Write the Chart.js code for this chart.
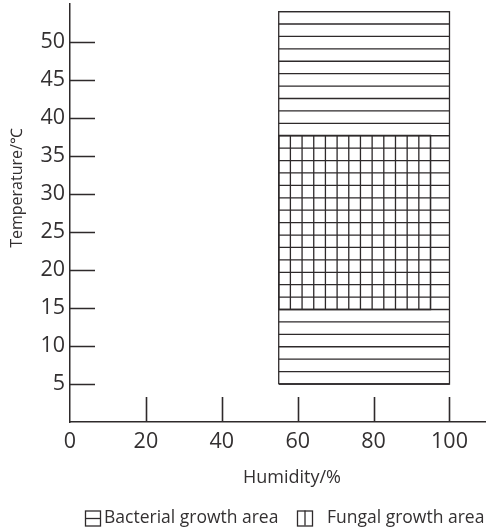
<!DOCTYPE html>
<html><head><meta charset="utf-8">
<script src="https://cdn.jsdelivr.net/npm/chart.js@4/dist/chart.umd.min.js"></script>
<style>
html,body{margin:0;padding:0;background:#fff;overflow:hidden}
#clip{width:486px;height:527px;overflow:hidden;position:relative}
#wrap{width:572px;height:527px;position:absolute;left:0;top:0}
</style>
</head><body><div id="clip"><div id="wrap"><canvas id="c"></canvas></div></div>
<script>
const xTickValues = [0, 20, 40, 60, 80, 100];
const yTickValues = [5, 10, 15, 20, 25, 30, 35, 40, 45, 50];
const bacterialHumidity = [55, 100];
const bacterialTemperature = [5, 54];
const fungalHumidity = [55, 95];
const fungalTemperature = [14.8, 37.7];
const seriesLabels = ['Bacterial growth area', 'Fungal growth area'];
const xAxisTitle = 'Humidity/%';
const yAxisTitle = 'Temperature/℃';

const INK = '#2e2a2b';
const TEXT = '#333031';
const FONT = "'Open Sans', 'Noto Sans', sans-serif";

function rectPoints(h, t) {
  return [
    {x: h[0], y: t[0]}, {x: h[1], y: t[0]}, {x: h[1], y: t[1]},
    {x: h[0], y: t[1]}, {x: h[0], y: t[0]}
  ];
}

const hatchPlugin = {
  id: 'hatch',
  beforeDatasetsDraw(chart) {
    const {ctx, scales: {x, y}, chartArea} = chart;
    ctx.save();
    ctx.beginPath();
    ctx.rect(chartArea.left, chartArea.top, chartArea.right - chartArea.left, chartArea.bottom - chartArea.top);
    ctx.clip();
    chart.data.datasets.forEach(ds => {
      const h = ds.hatch; if (!h) return;
      const xs = ds.data.map(p => x.getPixelForValue(p.x));
      const ys = ds.data.map(p => y.getPixelForValue(p.y));
      const l = Math.min(...xs), r = Math.max(...xs), t = Math.min(...ys), b = Math.max(...ys);
      ctx.strokeStyle = INK; ctx.lineWidth = 1.3;
      ctx.beginPath();
      if (h.dir === 'h') {
        for (let i = 0; i <= h.n; i++) { const yy = t + i * (b - t) / h.n; ctx.moveTo(l, yy); ctx.lineTo(r, yy); }
      } else {
        for (let i = 0; i <= h.n; i++) { const xx = l + i * (r - l) / h.n; ctx.moveTo(xx, t); ctx.lineTo(xx, b); }
      }
      ctx.stroke();
    });
    ctx.restore();
  }
};

const tickPlugin = {
  id: 'innerTicks',
  afterDraw(chart) {
    const {ctx, scales: {x, y}, chartArea} = chart;
    ctx.save();
    ctx.strokeStyle = INK; ctx.lineWidth = 1.6;
    ctx.beginPath();
    yTickValues.forEach(v => { const py = Math.round(y.getPixelForValue(v)) + 0.5; ctx.moveTo(chartArea.left, py); ctx.lineTo(chartArea.left + 25, py); });
    xTickValues.forEach(v => { if (v === 0) return; const px = Math.round(x.getPixelForValue(v)) + 0.5; ctx.moveTo(px, chartArea.bottom); ctx.lineTo(px, chartArea.bottom - 25); });
    ctx.stroke();
    // y axis title
    ctx.save();
    ctx.translate(17, 188);
    ctx.rotate(-Math.PI / 2);
    ctx.font = "16px " + FONT;
    ctx.fillStyle = TEXT;
    ctx.textAlign = 'center';
    ctx.textBaseline = 'middle';
    ctx.fillText(yAxisTitle, 0, 0);
    ctx.restore();
    // legend
    ctx.font = "17.5px " + FONT;
    ctx.fillStyle = TEXT;
    ctx.textBaseline = 'middle';
    ctx.textAlign = 'left';
    const box = 15, cy = 518;
    const iconX = [85, 297], textX = [104, 327];
    chart.data.datasets.forEach((ds, i) => {
      const cx = iconX[i];
      ctx.lineWidth = 1.3; ctx.strokeStyle = INK;
      ctx.strokeRect(cx + 0.5, cy - box / 2 + 0.5, box, box);
      ctx.beginPath();
      if (ds.hatch.dir === 'h') { ctx.moveTo(cx, cy + 0.5); ctx.lineTo(cx + box, cy + 0.5); }
      else { ctx.moveTo(cx + box / 2 + 0.5, cy - box / 2); ctx.lineTo(cx + box / 2 + 0.5, cy + box / 2); }
      ctx.stroke();
      ctx.fillText(ds.label, textX[i], cy);
    });
    ctx.restore();
  }
};

new Chart(document.getElementById('c'), {
  type: 'scatter',
  data: {
    datasets: [
      { label: seriesLabels[0], data: rectPoints(bacterialHumidity, bacterialTemperature), showLine: true,
        borderColor: INK, borderWidth: 1.3, pointRadius: 0, fill: false, tension: 0, hatch: {dir: 'h', n: 30} },
      { label: seriesLabels[1], data: rectPoints(fungalHumidity, fungalTemperature), showLine: true,
        borderColor: INK, borderWidth: 1.3, pointRadius: 0, fill: false, tension: 0, hatch: {dir: 'v', n: 13} }
    ]
  },
  options: {
    responsive: true, maintainAspectRatio: false, animation: false,
    layout: { padding: { top: 4, right: 58, bottom: 35, left: 0 } },
    plugins: { legend: { display: false }, tooltip: { enabled: false } },
    scales: {
      x: {
        type: 'linear', min: 0, max: 117,
        afterBuildTicks: s => { s.ticks = xTickValues.map(v => ({value: v})); },
        afterFit: s => { s.height = 70; s.paddingLeft = 0; s.paddingRight = 0; },
        grid: { display: false, drawTicks: false },
        border: { display: true, color: INK, width: 1.5 },
        ticks: { color: TEXT, font: { family: FONT, size: 21.5 }, padding: 7, maxRotation: 0 },
        title: { display: true, text: xAxisTitle, color: TEXT, font: { family: FONT, size: 18 }, padding: { top: 0, bottom: 3 } }
      },
      y: {
        type: 'linear', min: 0, max: 55,
        afterBuildTicks: s => { s.ticks = yTickValues.map(v => ({value: v})); },
        afterFit: s => { s.width = 70; s.paddingTop = 0; s.paddingBottom = 0; },
        grid: { display: false, drawTicks: false },
        border: { display: true, color: INK, width: 1.5 },
        ticks: { color: TEXT, font: { family: FONT, size: 21.5 }, padding: 5 },
        title: { display: false }
      }
    }
  },
  plugins: [hatchPlugin, tickPlugin]
});
</script>
</body></html>
